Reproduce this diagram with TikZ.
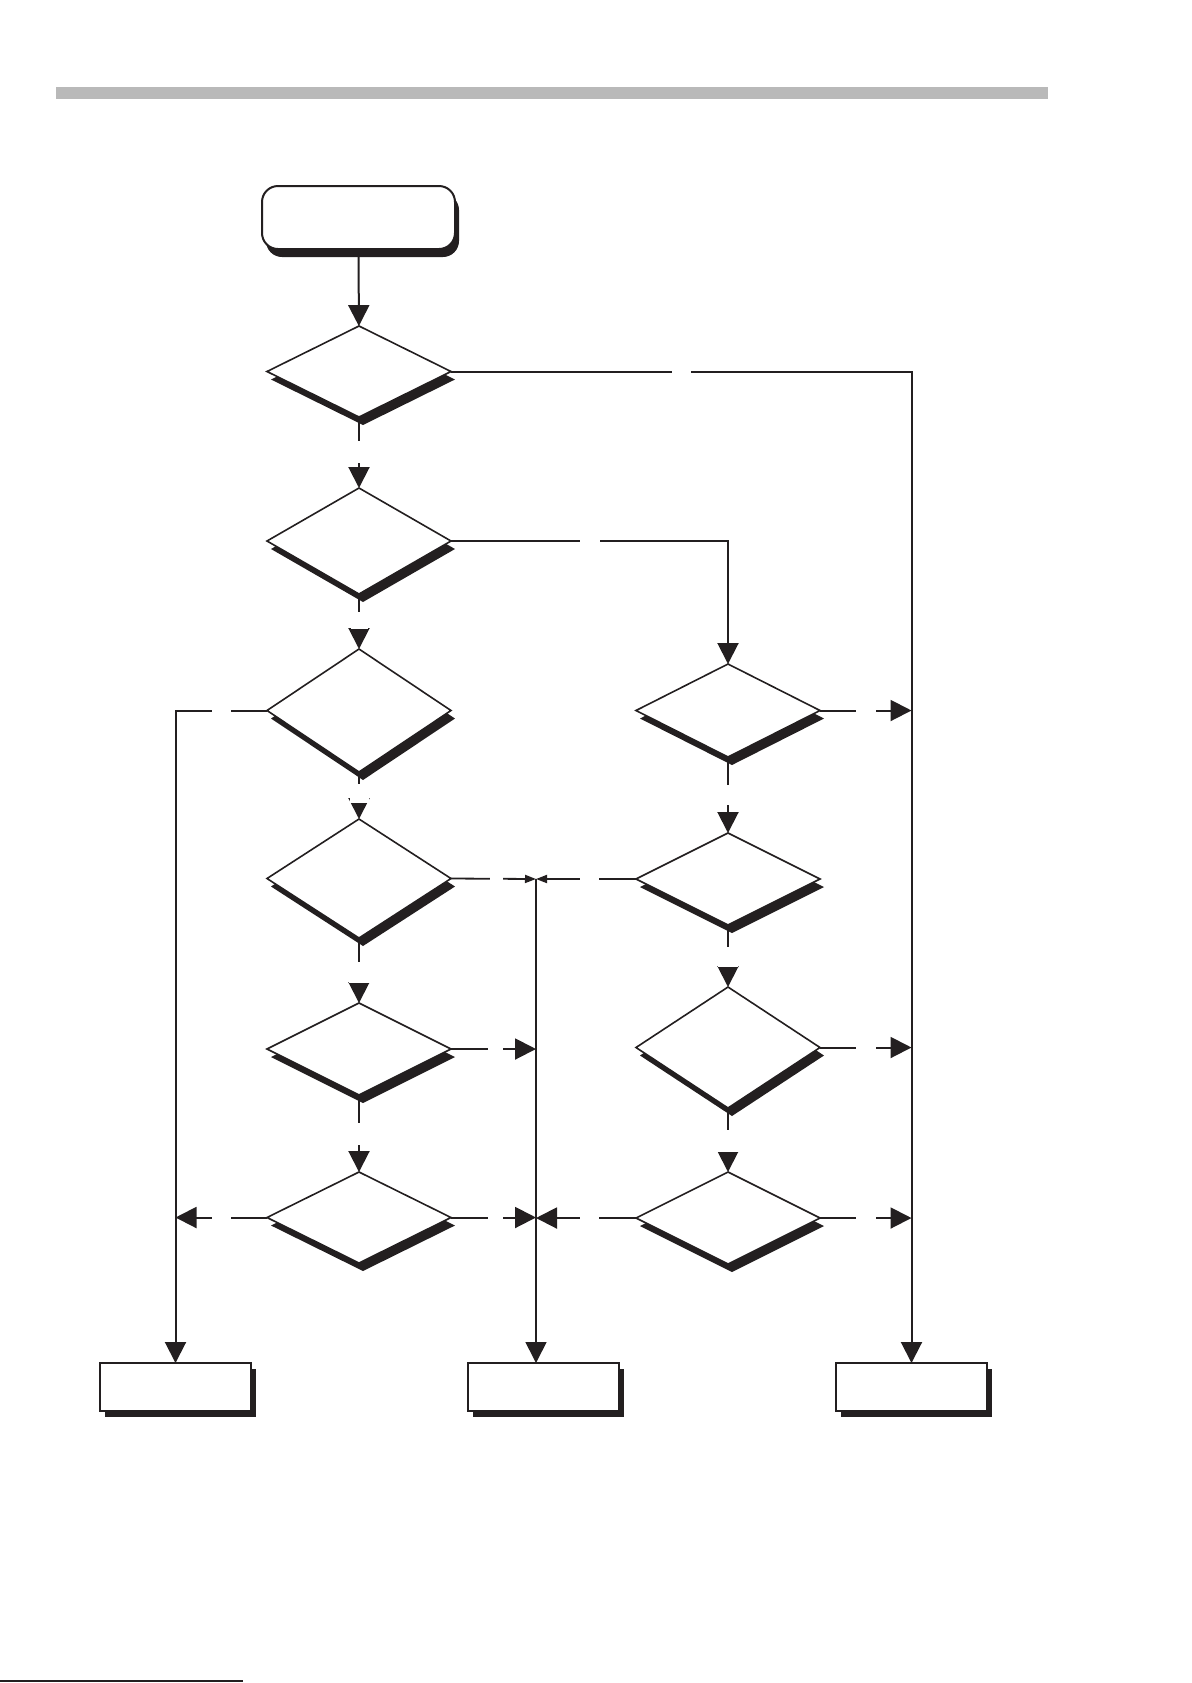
\documentclass[tikz,border=0pt]{standalone}
\usetikzlibrary{shapes.geometric,shadows,arrows.meta}
\definecolor{ink}{RGB}{35,31,32}
\definecolor{barfill}{RGB}{185,185,185}
\tikzset{
    decision/.style={diamond, draw=ink, line width=0.8pt, fill=white,
        inner sep=0pt, outer sep=0pt, minimum width=92pt, minimum height=#1,
        drop shadow={shadow xshift=2pt, shadow yshift=-4pt, fill=ink, opacity=1}},
    startbox/.style={rectangle, rounded corners=8pt, draw=ink, line width=1pt,
        fill=white, inner sep=0pt, outer sep=0pt, minimum width=96.5pt, minimum height=31.5pt,
        drop shadow={shadow xshift=2pt, shadow yshift=-4pt, fill=ink, opacity=1}},
    endbox/.style={rectangle, draw=ink, line width=1.1pt, fill=white,
        inner sep=0pt, outer sep=0pt, minimum width=75.5pt, minimum height=24pt,
        drop shadow={shadow xshift=2.5pt, shadow yshift=-3pt, fill=ink, opacity=1}},
    flow/.style={draw=ink, line width=1pt, -{Triangle[length=10.5pt,width=10.5pt]}},
    smallflow/.style={draw=ink, line width=0.9pt, -{Triangle[length=5.5pt,width=4pt]}},
    gap/.style={fill=white, inner sep=0pt, minimum size=#1}
}
\begin{document}
\begin{tikzpicture}[x=0.5pt,y=-0.5pt]
                \useasboundingbox
                    (0,0) rectangle (1191,1683);
                \fill[barfill]
                    (56,87) rectangle (1048,99);
                \draw[ink, line width=1pt]
                    (0,1681) -- (243,1681);

                \node[startbox] (start) at (358.5,217.5) {};
                \node[decision=45.5pt] (d1) at (359,371.5) {};
                \node[decision=53pt] (d2) at (359,541) {};
                \node[decision=61.5pt] (d3) at (359,710.5) {};
                \node[decision=59.5pt] (d4) at (359,878.5) {};
                \node[decision=46pt] (d5) at (359,1049) {};
                \node[decision=45.5pt] (d6) at (359,1217.5) {};
                \node[decision=46.5pt] (r1) at (728,710.5) {};
                \node[decision=46pt] (r2) at (728,879) {};
                \node[decision=60.5pt] (r3) at (728,1047.5) {};
                \node[decision=46pt] (r4) at (728,1218) {};
                \node[endbox] (lbox) at (175.5,1387) {};
                \node[endbox] (mbox) at (543.5,1387) {};
                \node[endbox] (rbox) at (911.5,1387) {};
                \coordinate (mbus) at (536,879);

                \draw[flow]
                    (start) -- (d1);
                \draw[flow]
                    (d1) -- node[gap=11pt, pos=0.49] {} (d2);
                \draw[flow]
                    (d2) -- node[gap=8.5pt, pos=0.48] {} (d3);
                \draw[flow]
                    (d3) -- node[gap=9.5pt, pos=0.46] {} (d4);
                \draw[flow]
                    (d4) -- node[gap=10.5pt, pos=0.53] {} (d5);
                \draw[flow]
                    (d5) -- node[gap=11pt, pos=0.51] {} (d6);
                \draw[flow]
                    (r1) -- node[gap=10pt] {} (r2);
                \draw[flow]
                    (r2) -- node[gap=10pt, pos=0.52] {} (r3);
                \draw[flow]
                    (r3) -- node[gap=11pt, pos=0.52] {} (r4);

                \draw[flow]
                    (d1.east) -- node[gap=9.5pt] {} (d1.east -| rbox.north) -- (rbox.north);
                \draw[flow]
                    (d2.east) -- node[gap=10pt] {} (d2.east -| r1.north) -- (r1.north);
                \draw[flow]
                    (d3.west) -- node[gap=9.5pt] {} (d3.west -| lbox.north) -- (lbox.north);
                \draw[flow, line width=0.8pt]
                    (mbus) -- (mbus |- mbox.north);

                \draw[smallflow]
                    (d4.east) -- node[gap=6.5pt, pos=0.535] {} (mbus);
                \draw[smallflow]
                    (r2.west) -- node[gap=9.5pt, pos=0.47] {} (mbus);
                \draw[flow]
                    (d5.east) -- node[gap=7.5pt, pos=0.52] {} (d5.east -| mbus);
                \draw[flow]
                    (d6.east) -- node[gap=7.5pt, pos=0.52] {} (d6.east -| mbus);
                \draw[flow]
                    (r4.west) -- node[gap=9.5pt, pos=0.47] {} (r4.west -| mbus);
                \draw[flow]
                    (d6.west) -- node[gap=9.5pt] {} (d6.west -| lbox.north);

                \draw[flow]
                    (r1.east) -- node[gap=10pt] {} (r1.east -| rbox.north);
                \draw[flow]
                    (r3.east) -- node[gap=10pt] {} (r3.east -| rbox.north);
                \draw[flow]
                    (r4.east) -- node[gap=10pt] {} (r4.east -| rbox.north);
            \end{tikzpicture}
\end{document}
